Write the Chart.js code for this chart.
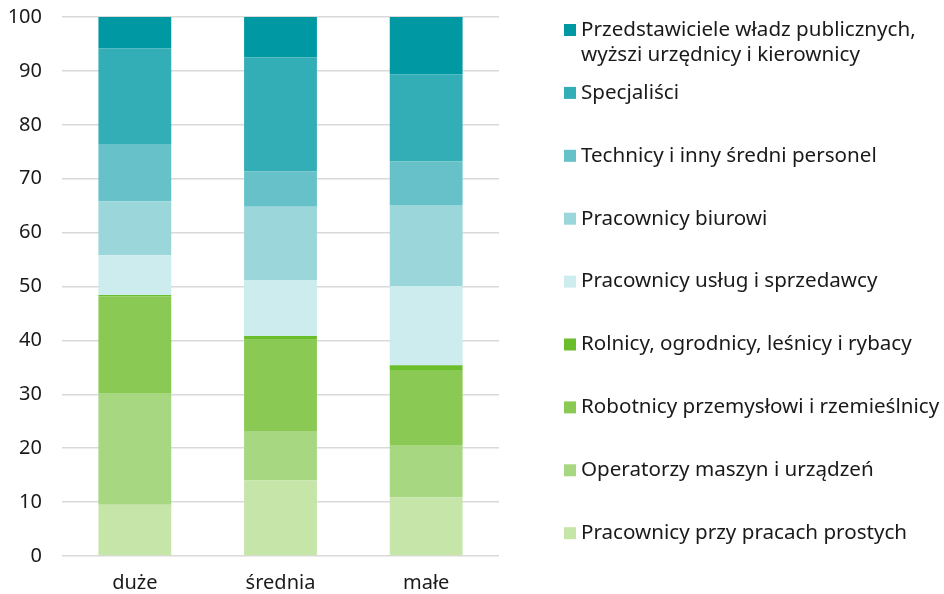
<!DOCTYPE html>
<html>
<head>
<meta charset="utf-8">
<script src="https://cdn.jsdelivr.net/npm/chart.js@4.4.0/dist/chart.umd.min.js"></script>
<style>
  html, body { margin: 0; padding: 0; background: #fff; }
  #wrap { width: 944px; height: 594px; position: relative; }
</style>
</head>
<body>
<div id="wrap"><canvas id="occChart"></canvas></div>
<script>
const categories = ['duże', 'średnia', 'małe'];

// series from bottom of the stack to the top
const seriesLabels = [
  'Pracownicy przy pracach prostych',
  'Operatorzy maszyn i urządzeń',
  'Robotnicy przemysłowi i rzemieślnicy',
  'Rolnicy, ogrodnicy, leśnicy i rybacy',
  'Pracownicy usług i sprzedawcy',
  'Pracownicy biurowi',
  'Technicy i inny średni personel',
  'Specjaliści',
  ['Przedstawiciele władz publicznych,', 'wyższi urzędnicy i kierownicy']
];

const prosteValues = [9.5, 14.0, 10.9];
const operatorzyValues = [20.6, 9.2, 9.7];
const robotnicyValues = [18.1, 16.9, 13.9];
const rolnicyValues = [0.2, 0.7, 0.9];
const uslugiValues = [7.4, 10.4, 14.7];
const biurowiValues = [10.0, 13.6, 15.0];
const technicyValues = [10.5, 6.6, 8.1];
const specjalisciValues = [17.9, 21.1, 16.2];
const przedstawicieleValues = [5.8, 7.5, 10.6];

const yTicks = [0, 10, 20, 30, 40, 50, 60, 70, 80, 90, 100];

const seriesValues = [
  prosteValues, operatorzyValues, robotnicyValues, rolnicyValues,
  uslugiValues, biurowiValues, technicyValues, specjalisciValues,
  przedstawicieleValues
];

const colors = [
  '#c5e5a9', '#a7d780', '#8aca54', '#6abd2b',
  '#cceced', '#9ad6da', '#66c2c8', '#33adb6', '#0099a3'
];

const fontFamily = '"Noto Sans", "Open Sans", sans-serif';
const textColor = '#1a1a1a';

// legend on the right, top item first
const sideLegend = {
  id: 'sideLegend',
  afterDraw(chart) {
    const c = chart.ctx;
    const ds = chart.data.datasets;
    c.save();
    c.font = '20.6px ' + fontFamily;
    c.textBaseline = 'middle';
    c.textAlign = 'left';
    for (let i = ds.length - 1, row = 0; i >= 0; i--, row++) {
      const y = 30 + row * 62.9;
      c.fillStyle = ds[i].backgroundColor;
      c.fillRect(564, y - 6, 12, 12);
      c.fillStyle = textColor;
      const lines = Array.isArray(ds[i].label) ? ds[i].label : [ds[i].label];
      lines.forEach(function (t, k) {
        c.fillText(t, 581, y + k * 25);
      });
    }
    c.restore();
  }
};

const ctx = document.getElementById('occChart').getContext('2d');

new Chart(ctx, {
  type: 'bar',
  data: {
    labels: categories,
    datasets: seriesValues.map(function (vals, i) {
      return {
        label: seriesLabels[i],
        data: vals,
        backgroundColor: colors[i],
        borderWidth: 0,
        barPercentage: 1,
        categoryPercentage: 0.5
      };
    })
  },
  options: {
    responsive: true,
    maintainAspectRatio: false,
    animation: false,
    layout: { padding: { top: 17, right: 445, bottom: 0, left: 0 } },
    plugins: {
      legend: { display: false },
      tooltip: { enabled: false }
    },
    scales: {
      x: {
        stacked: true,
        grid: { display: false },
        border: { display: false },
        ticks: {
          color: textColor,
          font: { family: fontFamily, size: 20 },
          padding: 7
        },
        afterFit(scale) { scale.height = 38; }
      },
      y: {
        stacked: true,
        min: 0,
        max: 100,
        afterBuildTicks(scale) {
          scale.ticks = yTicks.map(function (v) { return { value: v }; });
        },
        grid: { color: '#d9d9d9', lineWidth: 1.5, drawTicks: false },
        border: { display: false },
        ticks: {
          color: textColor,
          font: { family: fontFamily, size: 20 },
          padding: 20
        },
        afterFit(scale) {
          scale.width = 62;
          scale.paddingTop = 0;
          scale.paddingBottom = 0;
        }
      }
    }
  },
  plugins: [sideLegend]
});
</script>
</body>
</html>
